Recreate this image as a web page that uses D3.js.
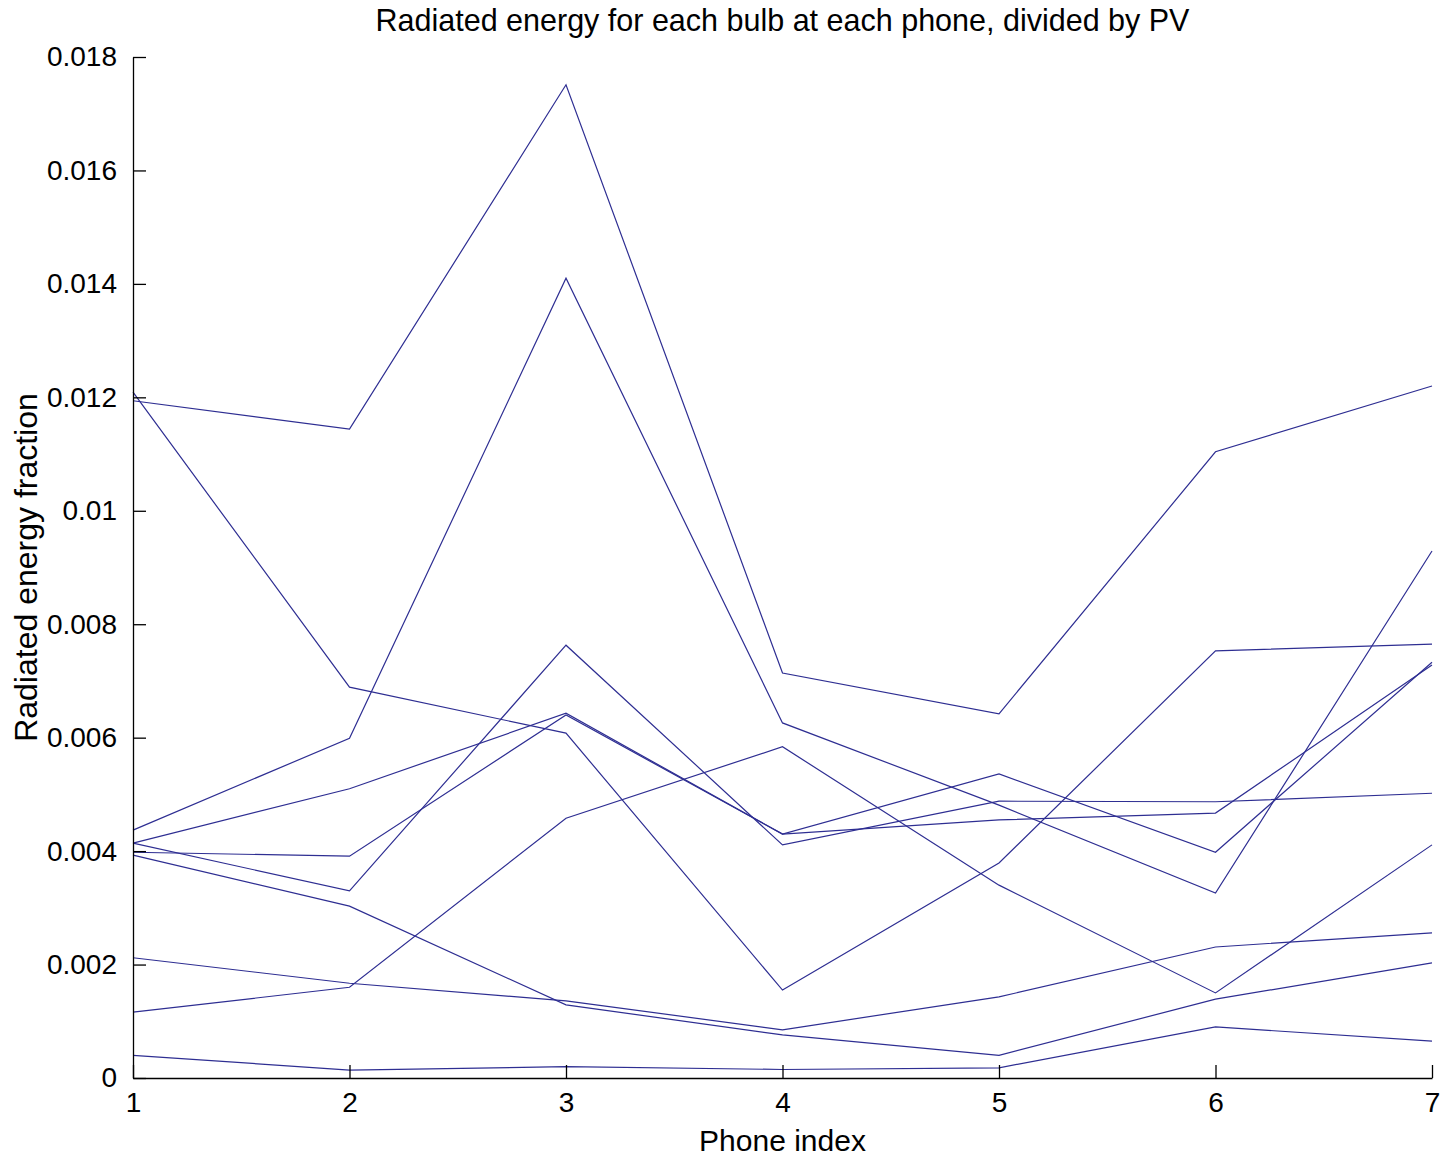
<!DOCTYPE html>
<html>
<head>
<meta charset="utf-8">
<script src="https://cdn.jsdelivr.net/npm/d3@7"></script>
<style>
  body { margin: 0; background: #fff; }
  text { font-family: "Liberation Sans", Arial, sans-serif; fill: #000; }
</style>
</head>
<body>
<div id="my_dataviz"></div>
<script>
// phone index on the x axis
var phones = [1, 2, 3, 4, 5, 6, 7];
// one array per bulb, radiated energy fraction at each phone
var bulbA = [0.01194, 0.01144, 0.01751, 0.00714, 0.00642, 0.01104, 0.0122];
var bulbB = [0.01209, 0.00689, 0.00608, 0.00155, 0.00379, 0.00753, 0.00765];
var bulbC = [0.00437, 0.00599, 0.0141, 0.00626, 0.00481, 0.00326, 0.00929];
var bulbD = [0.00116, 0.0016, 0.00458, 0.00584, 0.0034, 0.0015, 0.00411];
var bulbE = [0.00414, 0.0051, 0.00643, 0.0043, 0.00536, 0.00398, 0.00733];
var bulbF = [0.00414, 0.0033, 0.00763, 0.00411, 0.00488, 0.00487, 0.00502];
var bulbG = [0.00398, 0.00391, 0.0064, 0.0043, 0.00455, 0.00467, 0.00728];
var bulbH = [0.00393, 0.00303, 0.00129, 0.00076, 0.0004, 0.00139, 0.00203];
var bulbI = [0.00212, 0.00167, 0.00136, 0.00085, 0.00143, 0.00231, 0.00256];
var bulbJ = [0.0004, 0.00014, 0.0002, 0.00015, 0.00018, 0.0009, 0.00065];
var allBulbs = [bulbA, bulbB, bulbC, bulbD, bulbE, bulbF, bulbG, bulbH, bulbI, bulbJ];
var yTicks = [0, 0.002, 0.004, 0.006, 0.008, 0.01, 0.012, 0.014, 0.016, 0.018];

// set the dimensions and margins of the graph
var margin = {top: 57, right: 11, bottom: 83, left: 133},
    width = 1443 - margin.left - margin.right,
    height = 1161 - margin.top - margin.bottom;

var svg = d3.select("#my_dataviz")
  .append("svg")
    .attr("width", 1443)
    .attr("height", 1161)
  .append("g")
    .attr("transform", "translate(" + margin.left + "," + margin.top + ")");

var x = d3.scaleLinear().domain([1, 7]).range([0, width]);
var y = d3.scaleLinear().domain([0, 0.018]).range([height, 0]);

// lines
var line = d3.line()
  .x(function(d, i) { return x(phones[i]); })
  .y(function(d) { return y(d); });

svg.selectAll(".bulb")
  .data(allBulbs)
  .enter()
  .append("path")
    .attr("class", "bulb")
    .attr("fill", "none")
    .attr("stroke", "#2e2e92")
    .attr("stroke-width", 1.2)
    .attr("d", line);

// X axis, ticks pointing inward
var xAxis = svg.append("g")
  .attr("transform", "translate(0," + height + ")")
  .call(d3.axisBottom(x).tickValues(phones).tickFormat(d3.format("d")).tickSizeInner(-13).tickSizeOuter(0).tickPadding(14));

// Y axis
var yAxis = svg.append("g")
  .call(d3.axisLeft(y).tickValues(yTicks)
    .tickFormat(function(d) { return d === 0 ? "0" : d === 0.01 ? "0.01" : d3.format(".3f")(d); })
    .tickSizeInner(-13).tickSizeOuter(0).tickPadding(16));

[xAxis, yAxis].forEach(function(a) {
  a.select(".domain").attr("stroke", "#000").attr("stroke-width", 1.3);
  a.selectAll(".tick line").attr("stroke", "#000").attr("stroke-width", 1.3);
  a.selectAll(".tick text").attr("font-size", 28).attr("font-family", "Liberation Sans, Arial, sans-serif").attr("fill", "#000");
});

// title and axis labels
svg.append("text")
  .attr("x", width / 2)
  .attr("y", -26)
  .attr("text-anchor", "middle")
  .attr("font-size", 30.5)
  .text("Radiated energy for each bulb at each phone, divided by PV");

svg.append("text")
  .attr("x", width / 2)
  .attr("y", height + 73)
  .attr("text-anchor", "middle")
  .attr("font-size", 30)
  .text("Phone index");

svg.append("text")
  .attr("transform", "translate(" + (-96) + "," + (height / 2) + ") rotate(-90)")
  .attr("text-anchor", "middle")
  .attr("font-size", 32)
  .text("Radiated energy fraction");
</script>
</body>
</html>
